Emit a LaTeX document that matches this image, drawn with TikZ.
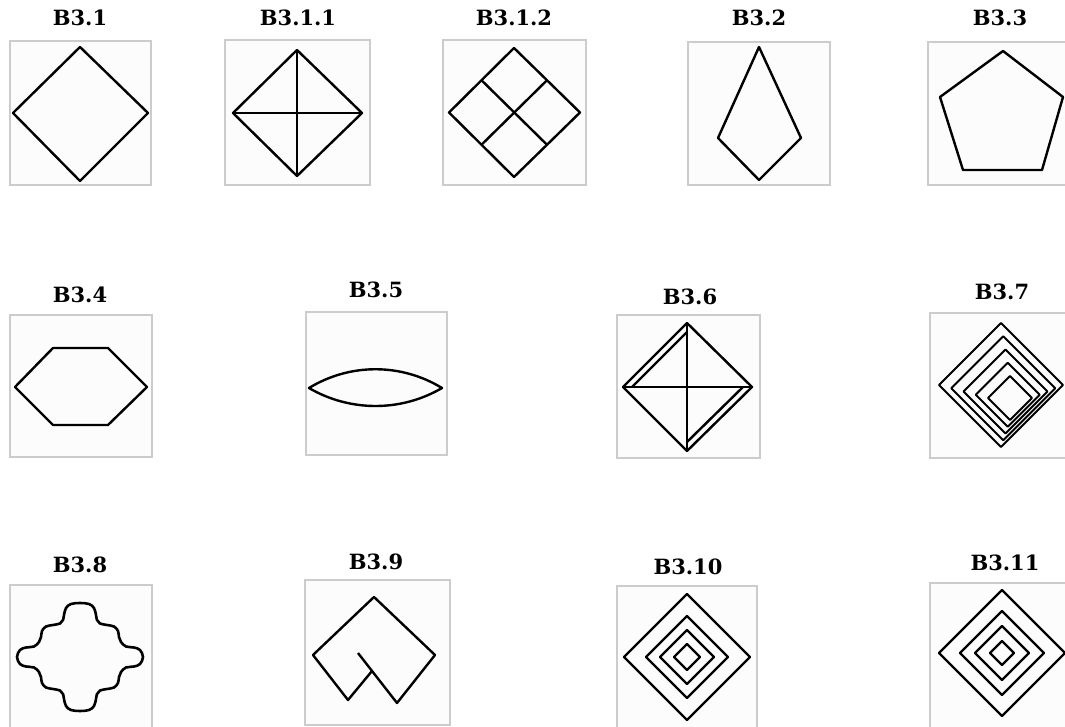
\documentclass[tikz,border=0pt]{standalone}
\usepackage{fontspec}
\setmainfont{DejaVu Serif}
\tikzset{
  frame/.style={draw=gray!40, fill=gray!2, line width=1.5pt},
  fig/.style={draw=black, line width=2.4pt, line join=round},
  lbl/.style={font=\fontsize{21}{24}\selectfont\bfseries, inner sep=0pt},
}
\begin{document}
\begin{tikzpicture}[x=1pt,y=-1pt]
\useasboundingbox (0,0) rectangle (1065,727);
\clip (0,0) rectangle (1065,727);
\fill[white] (0,0) rectangle (1065,727);

% ---------- labels ----------
\node[lbl] (l1)   at (80,18)   {B3.1};
\node[lbl] (l11)  at (298,18)  {B3.1.1};
\node[lbl] (l12)  at (514,18)  {B3.1.2};
\node[lbl] (l2)   at (759,18)  {B3.2};
\node[lbl] (l3)   at (1000,18) {B3.3};
\node[lbl] (l4)   at (80,295)  {B3.4};
\node[lbl] (l5)   at (376,290) {B3.5};
\node[lbl] (l6)   at (690,297) {B3.6};
\node[lbl] (l7)   at (1002,292){B3.7};
\node[lbl] (l8)   at (80,565)  {B3.8};
\node[lbl] (l9)   at (376,562) {B3.9};
\node[lbl] (l10)  at (688,567) {B3.10};
\node[lbl] (l11b) at (1005,563){B3.11};

% ---------- frames ----------
\draw[frame] (10,41) rectangle (151,185);
\draw[frame] (225,40) rectangle (370,185);
\draw[frame] (443,40) rectangle (586,185);
\draw[frame] (688,42) rectangle (830,185);
\draw[frame] (928,42) rectangle (1075,185);
\draw[frame] (10,315) rectangle (152,457);
\draw[frame] (306,312) rectangle (447,455);
\draw[frame] (617,315) rectangle (760,458);
\draw[frame] (930,313) rectangle (1075,458);
\draw[frame] (10,585) rectangle (152,740);
\draw[frame] (305,580) rectangle (450,725);
\draw[frame] (617,586) rectangle (757,740);
\draw[frame] (930,583) rectangle (1075,740);

% ---------- B3.1 ----------
\draw[fig] (80,47) -- (148,113) -- (80,181) -- (13,113) -- cycle;

% ---------- B3.1.1 ----------
\draw[fig] (297,50) -- (362,113) -- (297,176) -- (233,113) -- cycle;
\draw[fig] (297,50) -- (297,176);
\draw[fig] (233,113) -- (362,113);

% ---------- B3.1.2 ----------
\draw[fig] (514,48) -- (580,112.5) -- (514,177) -- (449,112.5) -- cycle;
\draw[fig] (481.5,80.25) -- (547,144.75);
\draw[fig] (547,80.25) -- (481.5,144.75);

% ---------- B3.2 ----------
\draw[fig] (759,47) -- (801,138) -- (759,180) -- (718,138) -- cycle;

% ---------- B3.3 ----------
\draw[fig] (1003,51) -- (1063,97) -- (1042,170) -- (963,170) -- (940,97) -- cycle;

% ---------- B3.4 ----------
\draw[fig] (15,387) -- (53,348) -- (108,348) -- (147,387) -- (108,425) -- (53,425) -- cycle;

% ---------- B3.5 ----------
\draw[fig] (309,388) .. controls (350,363) and (401,363) .. (442,388)
                     .. controls (401,412) and (350,412) .. (309,388) -- cycle;

% ---------- B3.6 ----------
\draw[fig] (687,323) -- (752,387) -- (687,451) -- (623,387) -- cycle;
\draw[fig] (687,323) -- (687,451);
\draw[fig] (623,387) -- (752,387);
\draw[fig] (687,332) -- (632,387);
\draw[fig] (743,387) -- (687,442);

% ---------- B3.7 ----------
\foreach \pa/\pb/\qa/\qb in {1324/1448/554/678, 1339.5/1443.5/563/667, 1355/1439/572/656,
                              1370.5/1434.5/581/645, 1386/1430/590/634}{
  \draw[fig, line width=2pt] ({(\pa+\qb)/2},{(\pa-\qb)/2}) -- ({(\pb+\qb)/2},{(\pb-\qb)/2})
          -- ({(\pb+\qa)/2},{(\pb-\qa)/2}) -- ({(\pa+\qa)/2},{(\pa-\qa)/2}) -- cycle;
}

% ---------- B3.8 ----------
\begin{scope}[shift={(80,657)}]
\draw[fig, line width=2.6pt] plot[smooth cycle, tension=0.6] coordinates {
  (0,-54) (9,-53) (14,-49) (16,-42) (17,-37) (20,-33.5) (27,-32) (34,-30.5) (38,-26)
  (39,-20) (41,-15) (46,-10.5) (54,-9.5) (60,-7)
  (63,0)
  (60,7) (54,9.5) (46,10.5) (41,15) (39,20) (38,26) (34,30.5) (27,32) (20,33.5)
  (17,37) (16,42) (14,49) (9,53)
  (0,54)
  (-9,53) (-14,49) (-16,42) (-17,37) (-20,33.5) (-27,32) (-34,30.5) (-38,26)
  (-39,20) (-41,15) (-46,10.5) (-54,9.5) (-60,7)
  (-63,0)
  (-60,-7) (-54,-9.5) (-46,-10.5) (-41,-15) (-39,-20) (-38,-26) (-34,-30.5) (-27,-32)
  (-20,-33.5) (-17,-37) (-16,-42) (-14,-49) (-9,-53)};
\end{scope}

% ---------- B3.9 ----------
\draw[fig] (358,653) -- (397,703) -- (435,655) -- (374,597) -- (313,655) -- (348,700) -- (372,671);

% ---------- B3.10 ----------
\foreach \r in {63,41,27,13}{
  \draw[fig] (687,657-\r) -- (687+\r,657) -- (687,657+\r) -- (687-\r,657) -- cycle;
}

% ---------- B3.11 ----------
\foreach \r in {63,42,27,12}{
  \draw[fig] (1002,653-\r) -- (1002+\r,653) -- (1002,653+\r) -- (1002-\r,653) -- cycle;
}
\end{tikzpicture}
\end{document}
